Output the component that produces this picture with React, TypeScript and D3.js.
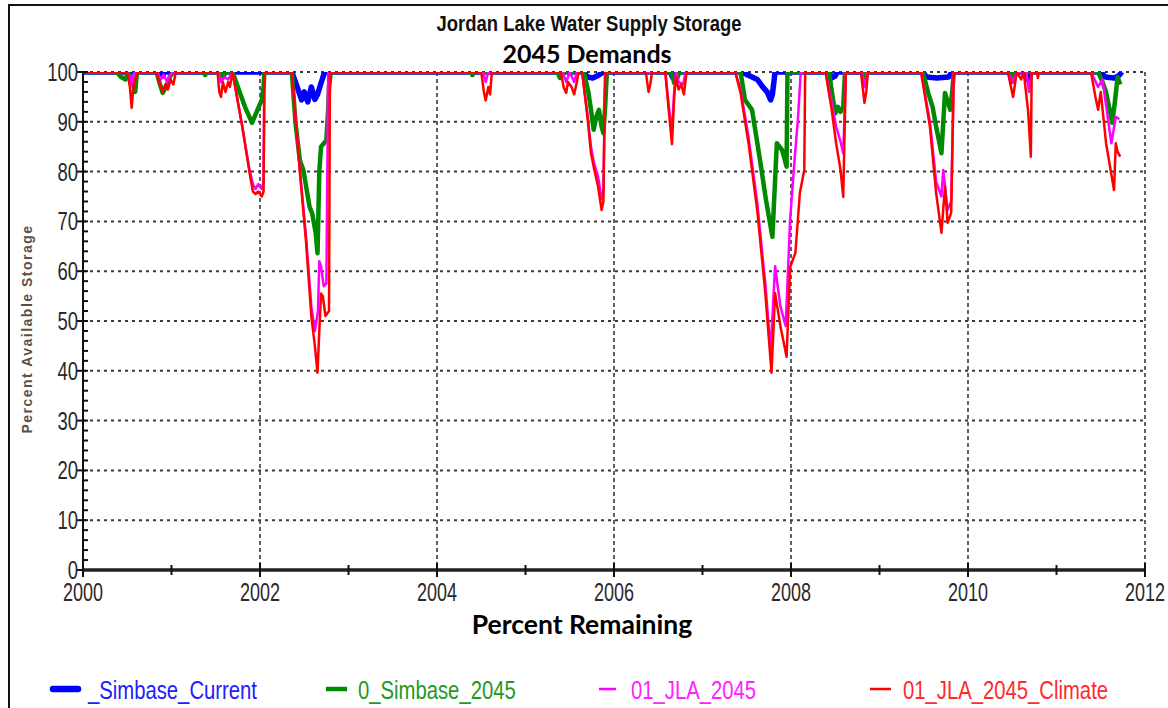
import React, { useEffect, useRef } from "react";
import * as d3 from "d3";

// tick values
const yearTicks = [2000, 2002, 2004, 2006, 2008, 2010, 2012];
const valueTicks = [0, 10, 20, 30, 40, 50, 60, 70, 80, 90, 100];

// [decimal year, percent available storage]
const simbaseCurrent: [number, number][] = [
  [2000, 100], [2000.88, 100], [2000.9, 99.2], [2000.92, 100],
  [2002.36, 100], [2002.42, 97], [2002.47, 94.4], [2002.5, 96], [2002.54, 94], [2002.58, 97],
  [2002.62, 94.5], [2002.65, 95.5], [2002.69, 97.8], [2002.73, 100],
  [2005.66, 100], [2005.7, 99], [2005.76, 98.8], [2005.82, 99.3], [2005.88, 100],
  [2006.64, 100], [2006.66, 99], [2006.68, 100],
  [2007.44, 100], [2007.5, 99.5], [2007.56, 99], [2007.62, 98.5], [2007.68, 97], [2007.73, 96],
  [2007.77, 94.4], [2007.79, 95.5], [2007.82, 100],
  [2008.43, 100], [2008.46, 98.8], [2008.5, 99.2], [2008.52, 100],
  [2009.49, 100], [2009.53, 99], [2009.65, 98.8], [2009.78, 99], [2009.82, 100],
  [2010.63, 100], [2010.67, 98.5], [2010.71, 100],
  [2011.5, 100], [2011.55, 99], [2011.65, 98.8], [2011.7, 99.2], [2011.74, 100],
];

const simbase2045: [number, number][] = [
  [2000, 100], [2000.38, 100], [2000.43, 99], [2000.48, 98.5], [2000.51, 100], [2000.56, 98],
  [2000.59, 96], [2000.61, 100],
  [2000.83, 100], [2000.87, 97.5], [2000.9, 95.8], [2000.94, 97], [2000.98, 99], [2001.02, 100],
  [2001.36, 100], [2001.38, 99.4], [2001.4, 100],
  [2001.55, 100], [2001.58, 99], [2001.62, 100],
  [2001.69, 100], [2001.75, 97], [2001.83, 93], [2001.91, 89.8], [2001.95, 91.5], [2002.02, 94.4],
  [2002.04, 97], [2002.05, 100],
  [2002.36, 100], [2002.4, 90], [2002.45, 82.3], [2002.49, 80.3], [2002.56, 72.9], [2002.59, 71.6],
  [2002.63, 67.6], [2002.65, 63.6], [2002.67, 80], [2002.69, 85], [2002.75, 86.3], [2002.77, 92.4],
  [2002.78, 97], [2002.8, 100],
  [2004.38, 100], [2004.4, 99.4], [2004.42, 100],
  [2005.36, 100], [2005.39, 98.8], [2005.42, 100],
  [2005.66, 100], [2005.71, 96], [2005.74, 92.4], [2005.77, 88.4], [2005.8, 91], [2005.83, 92.4],
  [2005.86, 89], [2005.88, 87.7], [2005.9, 93], [2005.92, 100],
  [2006.65, 100], [2006.68, 97.8], [2006.71, 98.5], [2006.74, 100],
  [2007.43, 100], [2007.48, 94.4], [2007.56, 92.4], [2007.65, 82.3], [2007.72, 74], [2007.79, 66.9],
  [2007.84, 85.7], [2007.9, 84.3], [2007.95, 81], [2007.96, 100],
  [2008.43, 100], [2008.47, 95], [2008.5, 91.7], [2008.53, 93], [2008.56, 92], [2008.59, 93], [2008.61, 100],
  [2008.82, 100], [2008.84, 98.5], [2008.86, 100],
  [2009.49, 100], [2009.55, 95.8], [2009.6, 93], [2009.64, 89], [2009.7, 83.7], [2009.74, 95.8],
  [2009.8, 92.4], [2009.82, 95.8], [2009.84, 100],
  [2010.48, 100], [2010.5, 98], [2010.53, 100],
  [2011.47, 100], [2011.52, 98], [2011.56, 96], [2011.63, 89.8], [2011.66, 94], [2011.69, 99], [2011.72, 97.5],
];

const jla2045: [number, number][] = [
  [2000, 100], [2000.5, 100], [2000.53, 99], [2000.55, 97.5], [2000.58, 100],
  [2000.84, 100], [2000.88, 98.5], [2000.91, 99.5], [2000.95, 98], [2000.99, 99.5], [2001.02, 100],
  [2001.53, 100], [2001.56, 98], [2001.6, 99], [2001.64, 98.5], [2001.69, 100],
  [2001.72, 97], [2001.8, 89], [2001.88, 80.5], [2001.92, 77.5], [2001.95, 76.5], [2001.98, 77.5],
  [2002.02, 76.5], [2002.04, 78], [2002.05, 100],
  [2002.36, 100], [2002.45, 80.5], [2002.52, 67], [2002.58, 53], [2002.62, 48], [2002.655, 52],
  [2002.67, 62], [2002.69, 61], [2002.72, 57], [2002.75, 57.5], [2002.77, 100],
  [2004.52, 100], [2004.55, 98], [2004.58, 100],
  [2005.42, 100], [2005.46, 98], [2005.5, 100], [2005.55, 98], [2005.58, 100],
  [2005.64, 100], [2005.7, 91.5], [2005.74, 85], [2005.77, 82], [2005.82, 79], [2005.86, 74.5],
  [2005.88, 76], [2005.9, 100],
  [2006.58, 100], [2006.62, 93], [2006.655, 88], [2006.68, 96], [2006.7, 100], [2006.73, 98],
  [2006.78, 97.5], [2006.81, 100],
  [2007.37, 100], [2007.43, 96.5], [2007.52, 87], [2007.62, 73.5], [2007.71, 57.5], [2007.77, 44],
  [2007.82, 61], [2007.88, 53], [2007.94, 49], [2007.99, 70.3], [2008.04, 82.3], [2008.08, 91], [2008.11, 100],
  [2008.39, 100], [2008.46, 94], [2008.51, 89], [2008.56, 86], [2008.59, 83.7], [2008.62, 100],
  [2008.8, 100], [2008.83, 97], [2008.86, 100],
  [2009.47, 100], [2009.57, 90], [2009.64, 78], [2009.7, 75], [2009.72, 80.3], [2009.77, 72.3],
  [2009.81, 74], [2009.84, 100],
  [2010.45, 100], [2010.51, 98], [2010.55, 100], [2010.66, 100], [2010.69, 96], [2010.72, 100],
  [2011.39, 100], [2011.47, 97], [2011.52, 98.5], [2011.62, 85.7], [2011.67, 91], [2011.71, 90.5],
];

const jla2045Climate: [number, number][] = [
  [2000, 100], [2000.5, 100], [2000.53, 97], [2000.55, 92.8], [2000.57, 97], [2000.6, 99], [2000.62, 100],
  [2000.83, 100], [2000.87, 97.5], [2000.9, 96], [2000.93, 97.5], [2000.96, 96.5], [2000.99, 98.5],
  [2001.02, 97.5], [2001.05, 100],
  [2001.52, 100], [2001.54, 96], [2001.56, 95], [2001.58, 98], [2001.61, 96], [2001.64, 98],
  [2001.66, 97], [2001.69, 100],
  [2001.72, 97], [2001.8, 89], [2001.88, 80], [2001.92, 76], [2001.95, 75.5], [2001.98, 76],
  [2002.02, 75], [2002.04, 76], [2002.05, 100],
  [2002.36, 100], [2002.45, 80], [2002.52, 66], [2002.58, 51], [2002.62, 45], [2002.65, 39.6],
  [2002.67, 48], [2002.69, 55.5], [2002.71, 55], [2002.74, 51], [2002.76, 51.5], [2002.78, 52], [2002.79, 100],
  [2004.5, 100], [2004.53, 96], [2004.55, 94.3], [2004.58, 97], [2004.6, 95.5], [2004.62, 100],
  [2005.4, 100], [2005.43, 97], [2005.46, 95.8], [2005.48, 98], [2005.52, 97], [2005.55, 95.5],
  [2005.58, 98], [2005.6, 100],
  [2005.64, 100], [2005.7, 91], [2005.74, 83.7], [2005.77, 81], [2005.82, 77], [2005.86, 72.3],
  [2005.88, 74], [2005.9, 100],
  [2006.36, 100], [2006.39, 96], [2006.41, 97.5], [2006.43, 100],
  [2006.58, 100], [2006.62, 92], [2006.655, 85.5], [2006.68, 95], [2006.7, 99], [2006.73, 96.5],
  [2006.76, 97.5], [2006.79, 95.5], [2006.82, 100],
  [2007.37, 100], [2007.43, 95.8], [2007.52, 85.7], [2007.62, 72], [2007.71, 55.6], [2007.78, 39.6],
  [2007.82, 55.6], [2007.88, 49], [2007.95, 42.8], [2007.99, 60.8], [2008.05, 63.7], [2008.1, 75.7],
  [2008.15, 80.3], [2008.16, 100],
  [2008.39, 100], [2008.46, 92.4], [2008.51, 85.7], [2008.56, 80.3], [2008.59, 74.9], [2008.62, 100],
  [2008.79, 100], [2008.83, 93.8], [2008.85, 96], [2008.87, 100],
  [2009.47, 100], [2009.57, 89], [2009.64, 75.7], [2009.7, 67.7], [2009.74, 77], [2009.77, 69.7],
  [2009.81, 71.7], [2009.84, 100],
  [2010.45, 100], [2010.51, 95], [2010.55, 100], [2010.6, 98.5], [2010.63, 100], [2010.68, 92],
  [2010.71, 83], [2010.72, 100],
  [2010.78, 100], [2010.79, 98.8], [2010.8, 100],
  [2011.39, 100], [2011.44, 95], [2011.47, 92.4], [2011.5, 96], [2011.56, 85.7], [2011.65, 76.3],
  [2011.67, 85.7], [2011.69, 84], [2011.72, 83],
];

const seriesNames = ["_Simbase_Current", "0_Simbase_2045", "01_JLA_2045", "01_JLA_2045_Climate"];
const seriesData = [simbaseCurrent, simbase2045, jla2045, jla2045Climate];

const W = 1168;
const H = 708;
const sans = "'Liberation Sans', Arial, sans-serif";

const App = () => {
  const ref = useRef<SVGSVGElement>(null);

  useEffect(() => {
    const svg = d3.select(ref.current);
    svg.selectAll("*").remove();

    const left = 83, right = 1145, top = 72, bottom = 570;
    const x = d3.scaleLinear().domain([2000, 2012]).range([left, right]);
    const y = d3.scaleLinear().domain([0, 100]).range([bottom, top]);

    const colors = ["#0000ff", "#008a00", "#ff00ff", "#ff0000"];
    const widths = [5.5, 4.5, 2.5, 2.5];
    const textColors = ["#2020ff", "#1f9a1f", "#ff22ff", "#ff2a2a"];
    // no narrow font installed, so squeeze the Arial-like one horizontally
    const squeeze = (px: number, py: number, s: number) => `translate(${px},${py}) scale(${s},1)`;

    // outer frame
    svg.append("rect")
      .attr("x", 9).attr("y", 5).attr("width", W).attr("height", H)
      .attr("fill", "none").attr("stroke", "#111").attr("stroke-width", 2);

    // titles
    svg.append("text").attr("transform", squeeze(589, 31, 0.84)).attr("text-anchor", "middle")
      .style("font-family", sans).style("font-weight", "bold").style("font-size", "22px")
      .attr("fill", "#111").text("Jordan Lake Water Supply Storage");
    svg.append("text").attr("x", 587).attr("y", 63).attr("text-anchor", "middle")
      .style("font-family", "Lato, 'Open Sans', sans-serif").style("font-weight", "bold").style("font-size", "25px")
      .attr("fill", "#000").text("2045 Demands");

    // grid
    const hGrid = svg.append("g");
    hGrid.selectAll("line").data(valueTicks.filter((d) => d > 0)).join("line")
      .attr("x1", left).attr("x2", right)
      .attr("y1", (d) => y(d)).attr("y2", (d) => y(d))
      .attr("stroke", "#3a3a3a").attr("stroke-width", 2).attr("stroke-dasharray", "3,4");
    const vGrid = svg.append("g");
    vGrid.selectAll("line").data(yearTicks.slice(1)).join("line")
      .attr("x1", (d) => x(d)).attr("x2", (d) => x(d))
      .attr("y1", top).attr("y2", bottom)
      .attr("stroke", "#3a3a3a").attr("stroke-width", 1.6).attr("stroke-dasharray", "4,3");

    // series
    svg.append("clipPath").attr("id", "plotClip")
      .append("rect").attr("x", left).attr("y", top).attr("width", right - left).attr("height", bottom - top);

    const line = d3.line<[number, number]>()
      .x((d) => x(d[0]))
      .y((d) => y(d[1]));

    svg.append("g").attr("clip-path", "url(#plotClip)")
      .selectAll("path").data(seriesData).join("path")
      .attr("d", (d) => line(d))
      .attr("fill", "none")
      .attr("stroke", (d, i) => colors[i])
      .attr("stroke-width", (d, i) => widths[i])
      .attr("stroke-linejoin", "round");

    // y axis
    const yAxis = svg.append("g");
    yAxis.append("line").attr("x1", left).attr("x2", left).attr("y1", top).attr("y2", bottom)
      .attr("stroke", "#111").attr("stroke-width", 2);
    yAxis.selectAll("line.minor").data(d3.range(0, 100, 2).filter((d) => d % 10 !== 0)).join("line")
      .attr("class", "minor")
      .attr("x1", left).attr("x2", left + 5).attr("y1", (d) => y(d)).attr("y2", (d) => y(d))
      .attr("stroke", "#111").attr("stroke-width", 2);
    yAxis.selectAll("line.major").data(valueTicks).join("line")
      .attr("class", "major")
      .attr("x1", left - 6).attr("x2", left + 5).attr("y1", (d) => y(d)).attr("y2", (d) => y(d))
      .attr("stroke", "#111").attr("stroke-width", 2);
    yAxis.selectAll("text").data(valueTicks).join("text")
      .attr("transform", (d) => squeeze(left - 5, y(d), 0.74))
      .attr("dy", "0.36em")
      .attr("text-anchor", "end")
      .style("font-family", sans).style("font-size", "25px").attr("fill", "#2a2a2a")
      .text((d) => d);

    // x axis
    const xAxis = svg.append("g");
    xAxis.append("line").attr("x1", left).attr("x2", right).attr("y1", bottom).attr("y2", bottom)
      .attr("stroke", "#222").attr("stroke-width", 3.5);
    xAxis.selectAll("line.major").data(yearTicks).join("line")
      .attr("class", "major")
      .attr("x1", (d) => x(d)).attr("x2", (d) => x(d)).attr("y1", bottom - 7).attr("y2", bottom + 7)
      .attr("stroke", "#111").attr("stroke-width", 2);
    xAxis.selectAll("line.minor").data(d3.range(2001, 2012, 2)).join("line")
      .attr("class", "minor")
      .attr("x1", (d) => x(d)).attr("x2", (d) => x(d)).attr("y1", bottom - 5).attr("y2", bottom + 5)
      .attr("stroke", "#111").attr("stroke-width", 2);
    xAxis.selectAll("text").data(yearTicks).join("text")
      .attr("transform", (d) => squeeze(x(d), 601, 0.72))
      .attr("text-anchor", "middle")
      .style("font-family", sans).style("font-size", "25px").attr("fill", "#2a2a2a")
      .text((d) => d);

    // axis titles
    svg.append("text").attr("x", 582).attr("y", 634).attr("text-anchor", "middle")
      .style("font-family", "Lato, 'Open Sans', sans-serif").style("font-weight", "bold").style("font-size", "26.5px")
      .attr("fill", "#000").text("Percent Remaining");
    svg.append("text")
      .attr("transform", `translate(32, ${(225 + 433) / 2}) rotate(-90)`)
      .attr("text-anchor", "middle")
      .style("font-family", sans).style("font-weight", "bold")
      .style("font-size", "14px").style("letter-spacing", "1.5px")
      .attr("fill", "#5b5048").text("Percent Available Storage");

    // legend
    const legendX = [53, 326, 599, 870];
    const legendLen = [25, 21, 17, 21];
    const textX = [88, 358, 631, 903];
    const legend = svg.append("g");
    const items = legend.selectAll("g").data(seriesNames).join("g");
    items.append("line")
      .attr("x1", (d, i) => legendX[i]).attr("x2", (d, i) => legendX[i] + legendLen[i])
      .attr("y1", 689).attr("y2", 689)
      .attr("stroke", (d, i) => colors[i])
      .attr("stroke-width", (d, i) => (i === 0 ? 6.5 : widths[i]))
      .attr("stroke-linecap", (d, i) => (i === 0 ? "round" : "butt"));
    items.append("text")
      .attr("transform", (d, i) => squeeze(textX[i], 699, 0.78))
      .style("font-family", sans).style("font-size", "26px")
      .attr("fill", (d, i) => textColors[i])
      .text((d) => d);
  }, []);

  return (
    <svg
      ref={ref}
      width={W}
      height={H}
      style={{ position: "absolute", left: 0, top: 0, background: "#fff" }}
    />
  );
};

export default App;
